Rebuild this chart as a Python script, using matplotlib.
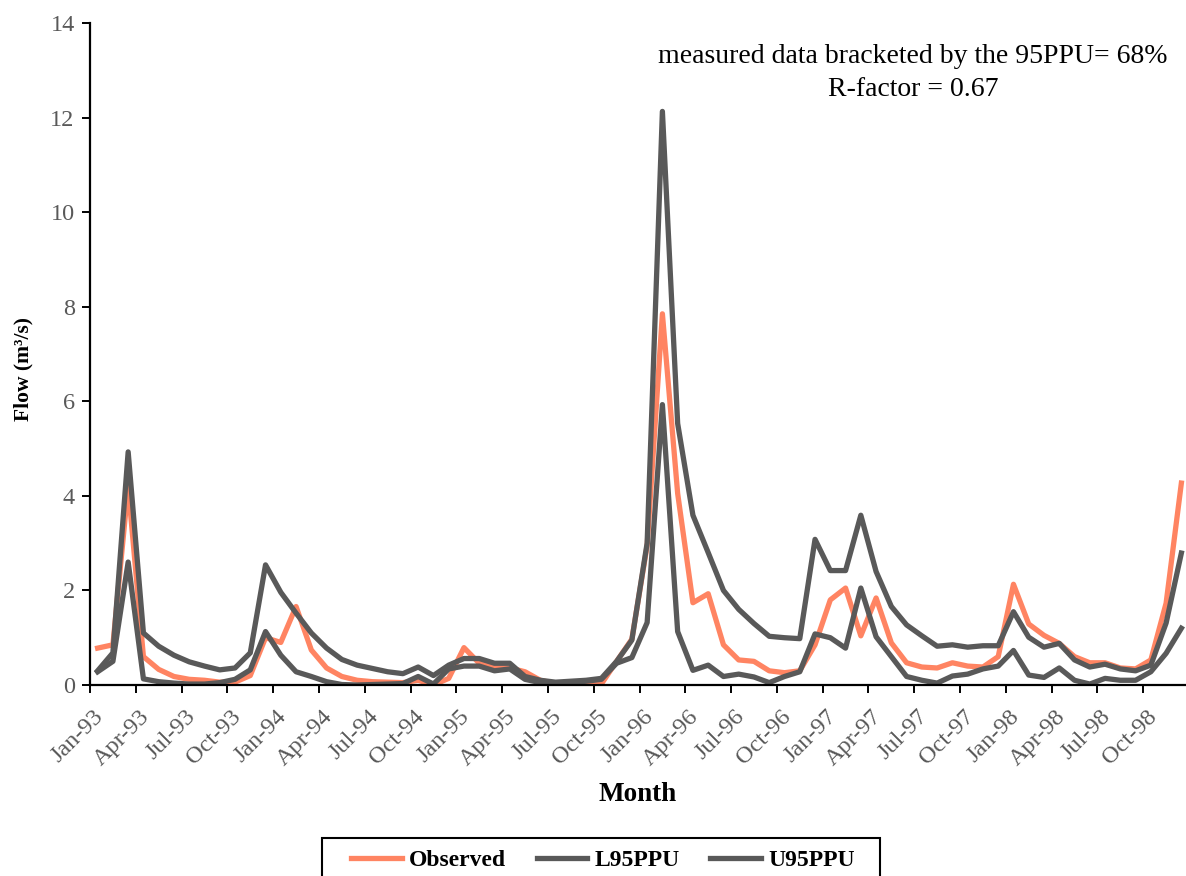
import matplotlib
matplotlib.use("Agg")
import matplotlib.pyplot as plt
import matplotlib.transforms as mtransforms
from matplotlib.patches import Rectangle
import numpy as np

months = [f"{m}-{y:02d}" for y in range(93, 99) for m in
          ["Jan", "Feb", "Mar", "Apr", "May", "Jun", "Jul", "Aug", "Sep", "Oct", "Nov", "Dec"]]

observed = [0.78, 0.85, 4.2, 0.6, 0.33, 0.18, 0.12, 0.1, 0.06, 0.06, 0.2, 1.0,
            0.9, 1.66, 0.74, 0.36, 0.18, 0.1, 0.07, 0.06, 0.05, 0.1, 0.0, 0.14,
            0.79, 0.46, 0.38, 0.36, 0.28, 0.1, 0.03, 0.02, 0.02, 0.02, 0.5, 0.97,
            2.95, 7.85, 4.05, 1.74, 1.93, 0.85, 0.53, 0.5, 0.3, 0.26, 0.3, 0.85,
            1.8, 2.05, 1.04, 1.84, 0.89, 0.47, 0.38, 0.36, 0.47, 0.4, 0.38, 0.6,
            2.13, 1.29, 1.05, 0.88, 0.6, 0.47, 0.47, 0.36, 0.34, 0.53, 1.73, 4.27]

u95ppu = [0.3, 0.68, 4.93, 1.1, 0.82, 0.63, 0.49, 0.4, 0.32, 0.36, 0.68, 2.54,
          1.96, 1.52, 1.1, 0.78, 0.54, 0.42, 0.35, 0.28, 0.24, 0.38, 0.2, 0.42,
          0.56, 0.56, 0.46, 0.46, 0.18, 0.1, 0.06, 0.08, 0.1, 0.14, 0.5, 0.95,
          3.0, 12.13, 5.53, 3.59, 2.8, 2.0, 1.6, 1.3, 1.03, 1.0, 0.98, 3.08,
          2.42, 2.42, 3.59, 2.4, 1.66, 1.27, 1.04, 0.82, 0.85, 0.8, 0.83, 0.83,
          1.55, 1.01, 0.8, 0.88, 0.53, 0.38, 0.44, 0.34, 0.3, 0.42, 1.31, 2.79]

l95ppu = [0.28, 0.5, 2.6, 0.13, 0.07, 0.04, 0.02, 0.02, 0.05, 0.12, 0.32, 1.13,
          0.63, 0.28, 0.18, 0.07, 0.01, 0.0, 0.01, 0.02, 0.03, 0.18, 0.02, 0.34,
          0.4, 0.4, 0.3, 0.34, 0.12, 0.05, 0.03, 0.05, 0.08, 0.12, 0.46, 0.58,
          1.32, 5.93, 1.13, 0.31, 0.42, 0.18, 0.23, 0.17, 0.05, 0.18, 0.28, 1.08,
          1.0, 0.78, 2.05, 1.02, 0.6, 0.18, 0.1, 0.04, 0.19, 0.23, 0.34, 0.4,
          0.73, 0.21, 0.16, 0.36, 0.1, 0.02, 0.14, 0.1, 0.1, 0.28, 0.67, 1.2]

plt.rcParams['font.family'] = ['Liberation Serif', 'DejaVu Serif']

W, H = 1186, 876
fig = plt.figure(figsize=(W/100, H/100), dpi=100)
ax = fig.add_axes([90/W, 191/H, 1099/W, 662/H])

x = np.arange(len(months)) + 0.5
orange = '#FF8462'
gray = '#595959'
ax.plot(x, observed, color=orange, lw=3.8, label='Observed', solid_joinstyle='round')
ax.plot(x, l95ppu, color=gray, lw=3.8, label='L95PPU', solid_joinstyle='round')
ax.plot(x, u95ppu, color=gray, lw=3.8, label='U95PPU', solid_joinstyle='round')

ax.set_xlim(0, 72)
ax.set_ylim(0, 14)
ax.set_yticks(range(0, 15, 2))
ax.set_xticks(range(0, 72, 3))
ax.set_xticklabels(months[::3], rotation=45, ha='right', rotation_mode='anchor')
for s in ['top', 'right']:
    ax.spines[s].set_visible(False)
for s in ['left', 'bottom']:
    ax.spines[s].set_linewidth(1.6)
    ax.spines[s].set_color('black')
ax.tick_params(axis='both', direction='out', length=6, width=1.4, color='black',
               labelcolor='#595959')
ax.tick_params(axis='y', labelsize=17.5, pad=5)
ax.tick_params(axis='x', labelsize=17.5, pad=9)
offset = mtransforms.ScaledTranslation(3/100, 0, fig.dpi_scale_trans)
for lbl in ax.get_xticklabels():
    lbl.set_transform(lbl.get_transform() + offset)

ax.set_xlabel('Month', fontsize=19.5, fontweight='bold')
ax.xaxis.set_label_coords(0.4986, -(782 - 685) / 662)
ax.set_ylabel('Flow (m³/s)', fontsize=15.5, fontweight='bold')
ax.yaxis.set_label_coords(-(90 - 33) / 1099, (685 - 369) / 662)

ax.text(913/W, 1 - 73/H, 'measured data bracketed by the 95PPU= 68%\nR-factor = 0.67',
        transform=fig.transFigure, ha='center', va='center', fontsize=20,
        linespacing=1.38, color='black')

leg = fig.legend(loc='center', bbox_to_anchor=(603/W, 1 - 860/H), ncol=3,
                 frameon=False, prop={'weight': 'bold', 'size': 17},
                 handlelength=2.15, handletextpad=0.3, columnspacing=1.3,
                 borderpad=0.0, borderaxespad=0)
fig.patches.append(Rectangle((322/W, -0.05), (880-322)/W, 0.05 + (876-838)/H,
                             transform=fig.transFigure, fill=False,
                             edgecolor='black', linewidth=1.5))

fig.savefig('out.png', dpi=100)
